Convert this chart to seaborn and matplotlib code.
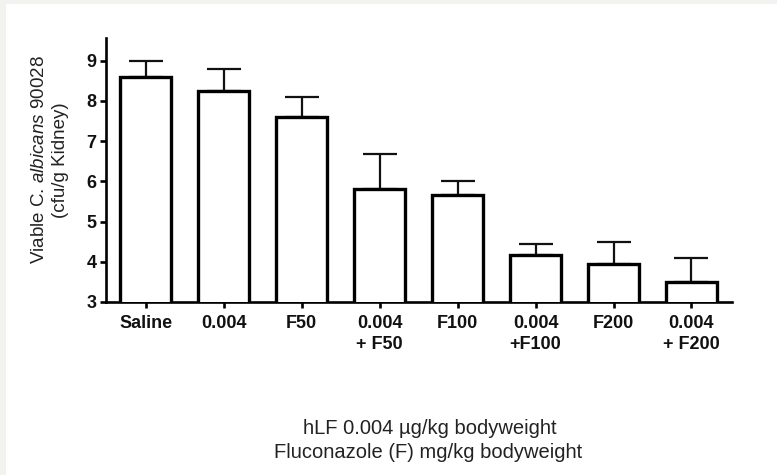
import matplotlib
matplotlib.use("Agg")
import matplotlib.pyplot as plt
import seaborn as sns
import pandas as pd
from matplotlib.patches import Rectangle

# Treatment groups and kidney fungal burden (log10 cfu/g), mean and upper error
groups = ["Saline", "0.004", "F50", "0.004\n+ F50", "F100", "0.004\n+F100", "F200", "0.004\n+ F200"]
means = [8.58, 8.24, 7.60, 5.82, 5.66, 4.17, 3.95, 3.50]
errors = [0.41, 0.56, 0.49, 0.85, 0.35, 0.27, 0.54, 0.59]
yticks = [3, 4, 5, 6, 7, 8, 9]

df = pd.DataFrame({"group": groups, "cfu": means})

sns.set_theme(style="ticks")
plt.rcParams["font.family"] = ["Liberation Sans", "DejaVu Sans"]
plt.rcParams["mathtext.fontset"] = "custom"
plt.rcParams["mathtext.rm"] = "Liberation Sans"
plt.rcParams["mathtext.it"] = "Liberation Sans:italic"

fig = plt.figure(figsize=(7.77, 4.75), dpi=100)
fig.patch.set_facecolor("white")
# thin light frame along the top and left edges
fig.patches.append(Rectangle((0, 0), 6 / 777, 1, transform=fig.transFigure,
                             facecolor="#f2f2ee", edgecolor="none", zorder=0))
fig.patches.append(Rectangle((0, 1 - 4 / 475), 1, 4 / 475, transform=fig.transFigure,
                             facecolor="#f2f2ee", edgecolor="none", zorder=0))

ax = fig.add_axes([106 / 777, 1 - 302 / 475, 626 / 777, 264 / 475])
ax.set_facecolor("white")

sns.barplot(data=df, x="group", y="cfu", order=groups, ax=ax,
            color="white", edgecolor="black", linewidth=2.4, width=0.655,
            errorbar=None, zorder=3)

xpos = list(range(len(groups)))
ax.errorbar(xpos, means, yerr=[[0] * len(errors), errors], fmt="none",
            ecolor="#111111", elinewidth=1.6, capsize=12.5, capthick=1.6, zorder=2)

ax.set_ylim(3, 9.56)
ax.set_xlim(-0.51, 7.52)
ax.set_yticks(yticks)
ax.set_yticklabels([str(t) for t in yticks], fontweight="bold", fontsize=13)
ax.set_xticks(xpos)
ax.set_xticklabels(groups, fontweight="bold", fontsize=13, linespacing=1.3)

for side in ["top", "right"]:
    ax.spines[side].set_visible(False)
for side in ["left", "bottom"]:
    ax.spines[side].set_linewidth(1.9)
    ax.spines[side].set_color("black")
ax.tick_params(axis="both", width=1.9, length=4.5, color="black", labelcolor="#111111")
ax.tick_params(axis="x", pad=5)
ax.tick_params(axis="y", pad=2.5)

ax.set_xlabel("")
ax.set_ylabel("")
fig.text(50 / 777, 1 - 160 / 475, "Viable C. $\\it{albicans}$ 90028\n(cfu/g Kidney)",
         rotation=90, ha="center", va="center", multialignment="center",
         fontsize=13.5, color="#222222", linespacing=1.25)

fig.text(430 / 777, 1 - 434 / 475, "hLF 0.004 \u00b5g/kg bodyweight",
         ha="center", va="baseline", fontsize=14.5, color="#222222")
fig.text(428 / 777, 1 - 458 / 475, "Fluconazole (F) mg/kg bodyweight",
         ha="center", va="baseline", fontsize=14.5, color="#222222")

fig.savefig("out.png", dpi=100)
